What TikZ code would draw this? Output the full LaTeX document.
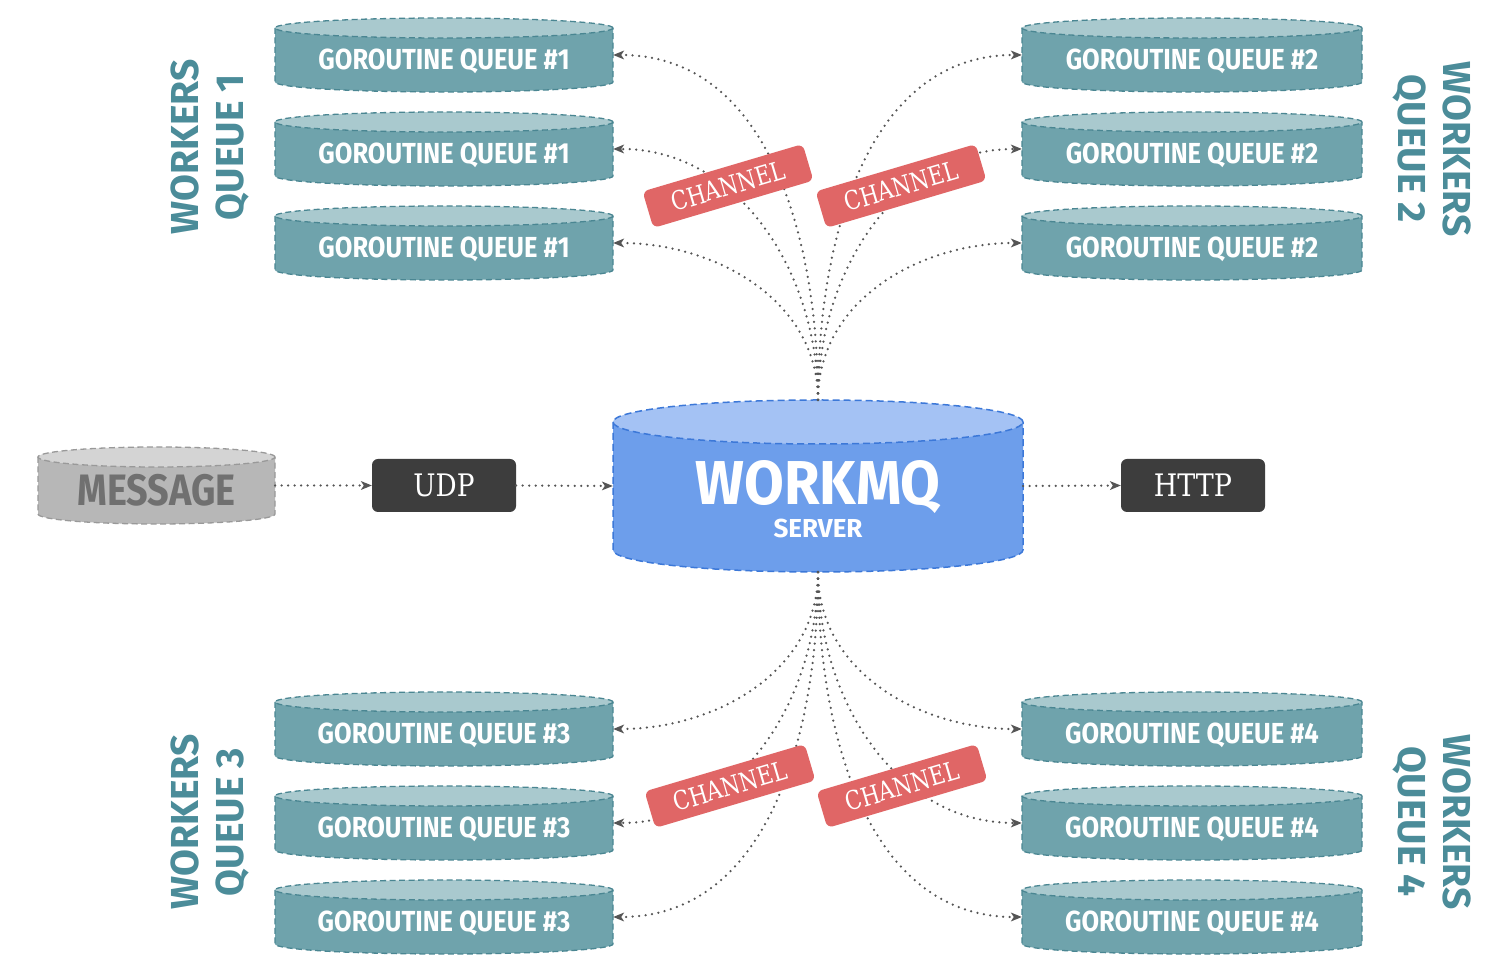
\documentclass[tikz,border=0pt]{standalone}
\usepackage{fontspec}
\setmainfont{Fira Sans}
\newfontfamily\slab{DejaVu Serif}
\usepackage{graphicx}
\usetikzlibrary{arrows.meta}
\definecolor{qbodyc}{HTML}{6FA3AC}
\definecolor{qtopc}{HTML}{A9C9CE}
\definecolor{qlinec}{HTML}{4A8692}
\definecolor{labc}{HTML}{4B8C99}
\definecolor{sbodyc}{HTML}{6D9EEB}
\definecolor{stopc}{HTML}{A4C2F4}
\definecolor{slinec}{HTML}{3C78D8}
\definecolor{mbodyc}{HTML}{B7B7B7}
\definecolor{mtopc}{HTML}{D4D4D4}
\definecolor{mlinec}{HTML}{999999}
\definecolor{mtextc}{HTML}{707070}
\definecolor{chanc}{HTML}{E06666}
\definecolor{boxc}{HTML}{3D3D3D}
\definecolor{connc}{HTML}{555555}
\newcommand{\sqz}[2]{\scalebox{#1}[1]{#2}}
\newcommand{\cyl}[8]{%
  \fill[#1body] ({#3-#5},{#4-#7}) -- ({#3-#5},{#4-#6+#7})
     arc[start angle=180,end angle=360,x radius=#5,y radius=#7]
     -- ({#3+#5},{#4-#7}) -- cycle;
  \fill[#1top] (#3,{#4-#7}) ellipse[x radius=#5,y radius=#7];
  \draw[#1line] ({#3-#5},{#4-#7}) -- ({#3-#5},{#4-#6+#7})
     arc[start angle=180,end angle=360,x radius=#5,y radius=#7]
     -- ({#3+#5},{#4-#7});
  \draw[#1line] (#3,{#4-#7}) ellipse[x radius=#5,y radius=#7];
  \node[#1text, minimum width={2*#5}, minimum height={#6}] (#2) at (#3,{#4-#6/2}) {#8};
}
\begin{document}
\begin{tikzpicture}[x=1pt,y=1pt,
  qbody/.style={fill=qbodyc}, qtop/.style={fill=qtopc},
  qline/.style={draw=qlinec, line width=1.3pt, dash pattern=on 6pt off 3.5pt},
  qtext/.style={text=white, font=\fontsize{29}{34}\selectfont\bfseries, text height=35pt, text depth=5pt, inner sep=0pt},
  sbody/.style={fill=sbodyc}, stop/.style={fill=stopc},
  sline/.style={draw=slinec, line width=1.5pt, dash pattern=on 7pt off 4pt},
  stext/.style={inner sep=0pt},
  mbody/.style={fill=mbodyc}, mtop/.style={fill=mtopc},
  mline/.style={draw=mlinec, line width=1.3pt, dash pattern=on 6pt off 3.5pt},
  mtext/.style={text=mtextc, font=\fontsize{44}{50}\selectfont\bfseries, text height=45pt, text depth=5pt, inner sep=0pt},
  side/.style={text=labc, font=\fontsize{39}{45}\selectfont\bfseries, align=center, inner sep=0pt},
  chan/.style={fill=chanc, rounded corners=6pt, minimum width=167pt, minimum height=38pt, text=white, font=\slab\fontsize{26}{30}\selectfont, inner sep=0pt},
  pbox/.style={fill=boxc, rounded corners=6pt, minimum width=144pt, minimum height=53pt, text=white, font=\slab\fontsize{31}{35}\selectfont, inner sep=0pt},
  conn/.style={draw=connc, line width=2.5pt, dash pattern=on 0pt off 6.5pt, line cap=round,
    -{Stealth[length=11pt, width=9pt, inset=3pt, line width=0pt, fill=connc]}},
]
\fill[white] (0,0) rectangle (1500,972);
\useasboundingbox (0,0) rectangle (1500,972);

% worker queues
\cyl{q}{q11}{444}{954}{169}{74}{10}{\sqz{0.88}{GOROUTINE QUEUE \#1}}
\cyl{q}{q12}{444}{860}{169}{74}{10}{\sqz{0.88}{GOROUTINE QUEUE \#1}}
\cyl{q}{q13}{444}{766}{169}{74}{10}{\sqz{0.88}{GOROUTINE QUEUE \#1}}
\cyl{q}{q21}{1192}{954}{170}{74}{10}{\sqz{0.88}{GOROUTINE QUEUE \#2}}
\cyl{q}{q22}{1192}{860}{170}{74}{10}{\sqz{0.88}{GOROUTINE QUEUE \#2}}
\cyl{q}{q23}{1192}{766}{170}{74}{10}{\sqz{0.88}{GOROUTINE QUEUE \#2}}
\cyl{q}{q31}{444}{280}{169}{74}{10}{\sqz{0.88}{GOROUTINE QUEUE \#3}}
\cyl{q}{q32}{444}{186}{169}{74}{10}{\sqz{0.88}{GOROUTINE QUEUE \#3}}
\cyl{q}{q33}{444}{92}{169}{74}{10}{\sqz{0.88}{GOROUTINE QUEUE \#3}}
\cyl{q}{q41}{1192}{280}{170}{74}{10}{\sqz{0.88}{GOROUTINE QUEUE \#4}}
\cyl{q}{q42}{1192}{186}{170}{74}{10}{\sqz{0.88}{GOROUTINE QUEUE \#4}}
\cyl{q}{q43}{1192}{92}{170}{74}{10}{\sqz{0.88}{GOROUTINE QUEUE \#4}}

% message and server
\cyl{m}{msg}{156.5}{525}{118.5}{77}{10}{\sqz{0.86}{MESSAGE}}
\cyl{s}{srv}{818}{572}{205}{172}{22}{}
\node[text=white, font=\fontsize{62}{70}\selectfont\bfseries, text height=42.7pt, text depth=0pt, inner sep=0pt] (srvt) at (818,489) {\sqz{0.93}{WORKMQ}};
\node[text=white, font=\fontsize{26}{30}\selectfont\bfseries, text height=18pt, text depth=0pt, inner sep=0pt] (srvs) at (818,443) {SERVER};

% side labels
\node[side, rotate=90] (l1) at (210,825) {WORKERS\\QUEUE 1};
\node[side, rotate=-90] (l2) at (1432,823) {WORKERS\\QUEUE 2};
\node[side, rotate=90] (l3) at (210,150) {WORKERS\\QUEUE 3};
\node[side, rotate=-90] (l4) at (1432,150) {WORKERS\\QUEUE 4};

% protocol boxes
\node[pbox] (udp) at (444,486.5) {\sqz{0.85}{UDP}};
\node[pbox] (http) at (1193,486.5) {\sqz{0.87}{HTTP}};

% connectors
\draw[conn] (msg.east) -- (udp.west);
\draw[conn] (udp.east) -- (srv.west);
\draw[conn] (srv.east) -- (http.west);

\draw[conn] (srv.north) to[out=90,in=0] (q11.east);
\draw[conn] (srv.north) to[out=90,in=0] (q12.east);
\draw[conn] (srv.north) to[out=90,in=0] (q13.east);
\draw[conn] (srv.north) to[out=90,in=180] (q21.west);
\draw[conn] (srv.north) to[out=90,in=180] (q22.west);
\draw[conn] (srv.north) to[out=90,in=180] (q23.west);
\draw[conn] (srv.south) to[out=-90,in=0] (q31.east);
\draw[conn] (srv.south) to[out=-90,in=0] (q32.east);
\draw[conn] (srv.south) to[out=-90,in=0] (q33.east);
\draw[conn] (srv.south) to[out=-90,in=180] (q41.west);
\draw[conn] (srv.south) to[out=-90,in=180] (q42.west);
\draw[conn] (srv.south) to[out=-90,in=180] (q43.west);

% channel labels
\node[chan, rotate=16.5] (ch1) at (728,786) {\sqz{0.82}{CHANNEL}};
\node[chan, rotate=16.5] (ch2) at (901,786) {\sqz{0.82}{CHANNEL}};
\node[chan, rotate=16.5] (ch3) at (730,186) {\sqz{0.82}{CHANNEL}};
\node[chan, rotate=16.5] (ch4) at (902,186) {\sqz{0.82}{CHANNEL}};
\end{tikzpicture}
\end{document}
